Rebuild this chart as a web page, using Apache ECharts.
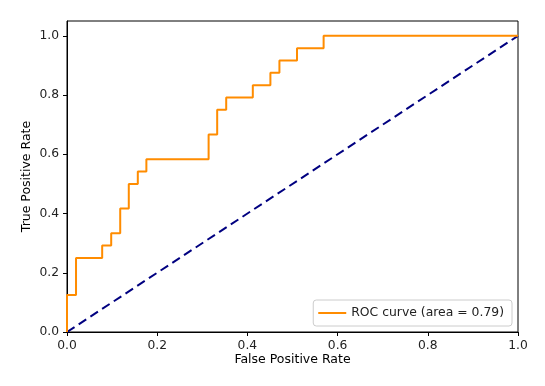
<!DOCTYPE html>
<html>
<head>
<meta charset="utf-8">
<script src="https://cdn.jsdelivr.net/npm/echarts@6/dist/echarts.min.js"></script>
<style>
  html, body { margin: 0; padding: 0; background: #fff; }
  #roc { width: 545px; height: 386px; }
</style>
</head>
<body>
<div id="roc"></div>
<script>
// 读图得到的 ROC 折点
const fpr = [0, 0, 0.02, 0.02, 0.078, 0.078, 0.098, 0.098, 0.118, 0.118, 0.137, 0.137, 0.157, 0.157, 0.176, 0.176, 0.314, 0.314, 0.333, 0.333, 0.353, 0.353, 0.412, 0.412, 0.451, 0.451, 0.471, 0.471, 0.51, 0.51, 0.569, 0.569, 1]
const tpr = [0, 0.125, 0.125, 0.25, 0.25, 0.292, 0.292, 0.333, 0.333, 0.417, 0.417, 0.5, 0.5, 0.542, 0.542, 0.583, 0.583, 0.667, 0.667, 0.75, 0.75, 0.792, 0.792, 0.833, 0.833, 0.875, 0.875, 0.917, 0.917, 0.958, 0.958, 1, 1]
const chanceX = [0, 1]
const chanceY = [0, 1]
const tickValues = [0, 0.2, 0.4, 0.6, 0.8, 1.0]
const rocName = 'ROC curve (area = 0.79)'

const font = 'DejaVu Sans'
const myChart = echarts.init(document.getElementById('roc'))

const axisCommon = {
  type: 'value',
  nameLocation: 'middle',
  nameMoveOverlap: false,
  nameTextStyle: { fontFamily: font, fontSize: 12.5, color: '#000' },
  axisLine: { show: true, lineStyle: { color: '#000', width: 1 } },
  axisTick: { show: true, inside: false, length: 4, lineStyle: { color: '#000' }, customValues: tickValues },
  axisLabel: {
    fontFamily: font, fontSize: 12.3, color: '#222', margin: 8,
    customValues: tickValues,
    formatter: (v) => v.toFixed(1)
  },
  splitLine: { show: false }
}

myChart.setOption({
  animation: false,
  grid: {
    left: 67,
    right: 27,
    top: 21,
    bottom: 54,
    show: true,
    borderColor: '#000',
    borderWidth: 1,
    backgroundColor: 'transparent'
  },
  legend: {
    data: [rocName],
    right: 33,
    bottom: 60,
    orient: 'vertical',
    icon: 'rect',
    itemWidth: 28,
    itemHeight: 2,
    itemGap: 8,
    padding: [7, 8, 7, 5],
    borderColor: '#ccc',
    borderWidth: 1,
    borderRadius: 3,
    backgroundColor: '#fff',
    textStyle: { fontFamily: font, fontSize: 12.4, color: '#222' }
  },
  xAxis: Object.assign({}, axisCommon, {
    name: 'False Positive Rate',
    nameGap: 21,
    min: 0,
    max: 1,
    interval: 0.2
  }),
  yAxis: Object.assign({}, axisCommon, {
    name: 'True Positive Rate',
    nameGap: 34,
    min: 0,
    max: 1.05,
    interval: 0.2
  }),
  series: [
    {
      name: rocName,
      type: 'line',
      data: fpr.map((x, i) => [x, tpr[i]]),
      showSymbol: false,
      color: '#ff8c00',
      lineStyle: { color: '#ff8c00', width: 2 },
      z: 3
    },
    {
      name: 'chance',
      type: 'line',
      data: chanceX.map((x, i) => [x, chanceY[i]]),
      showSymbol: false,
      lineStyle: { color: '#000080', width: 2, type: [9, 5] },
      z: 2
    }
  ]
})
</script>
</body>
</html>
